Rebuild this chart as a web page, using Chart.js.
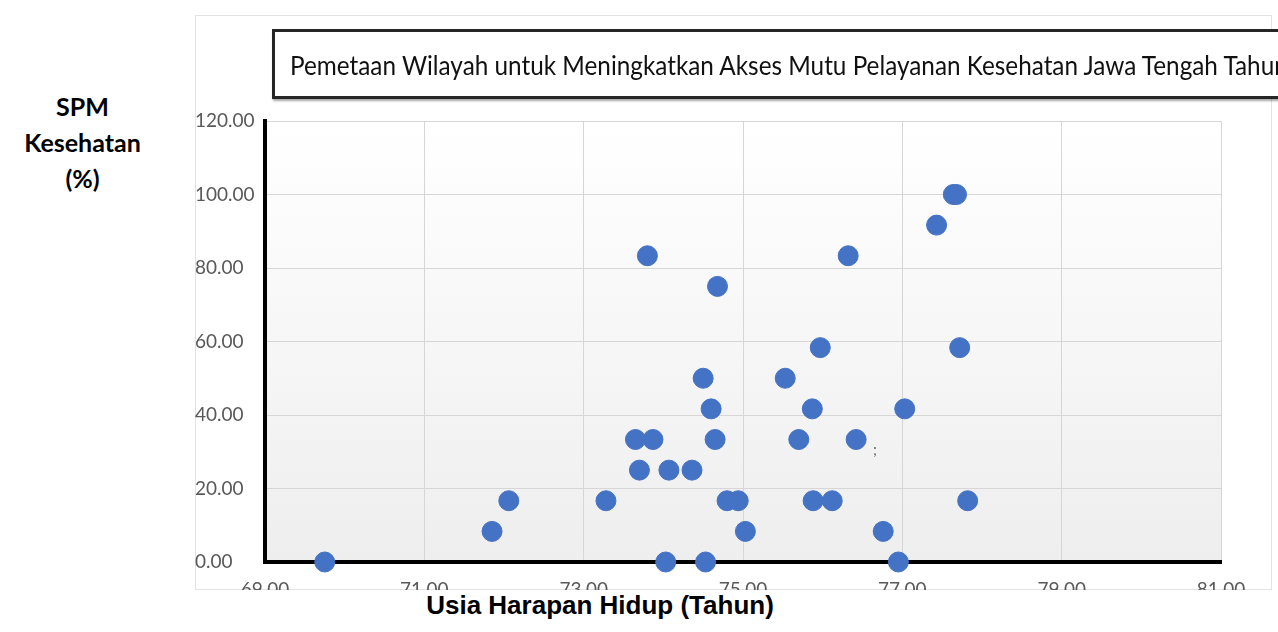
<!DOCTYPE html>
<html><head><meta charset="utf-8">
<script src="https://cdn.jsdelivr.net/npm/chart.js@4.4.0/dist/chart.umd.min.js"></script>
<style>
html,body{margin:0;padding:0;background:#fff;width:1278px;height:632px;overflow:hidden;position:relative;font-family:Lato,sans-serif}
#frame{position:absolute;left:195px;top:15px;width:1077px;height:575px;border:1px solid #e3e3e3;box-sizing:border-box}
#c{position:absolute;left:195px;top:15px}
#titlebox{position:absolute;left:272px;top:29px;width:1100px;height:70px;border:3px solid #262626;box-sizing:border-box;background:#fff;box-shadow:1px 2px 2px rgba(0,0,0,0.35)}
#titletext{position:absolute;left:15px;top:50%;transform:translateY(-50%) scaleY(1.12);white-space:nowrap;font-family:Lato;font-size:24px;color:#111}
#ytitle{position:absolute;left:0;width:165px;top:88px;text-align:center;font:bold 25px Lato;line-height:36px;color:#000}
#xtitle{position:absolute;left:300px;width:600px;top:590px;text-align:center;font:bold 26px "Liberation Sans",Arial,sans-serif;color:#000}
#semi{position:absolute;left:873px;top:440px;font:15px Lato;color:#666}
</style></head>
<body>
<div id="frame"></div>
<canvas id="c" width="1077" height="575"></canvas>
<div id="titlebox"><span id="titletext">Pemetaan Wilayah untuk Meningkatkan Akses Mutu Pelayanan Kesehatan Jawa Tengah Tahun</span></div>
<div id="ytitle">SPM<br>Kesehatan<br>(%)</div>
<div id="xtitle">Usia Harapan Hidup (Tahun)</div>
<div id="semi">;</div>
<script>
// Usia Harapan Hidup (Tahun) per kabupaten/kota
const usiaHarapanHidup = [77.64, 77.68, 77.43, 73.80, 76.32, 74.68, 75.97, 77.72, 74.50, 75.53,
  74.60, 75.87, 77.03, 73.65, 73.87, 74.65, 75.70, 76.42, 73.70, 74.07,
  74.36, 72.06, 73.28, 74.80, 74.94, 75.88, 76.12, 77.82, 71.85, 75.03,
  76.76, 74.03, 74.53, 76.95, 69.75];
// SPM Kesehatan (%)
const spmKesehatan = [100, 100, 91.67, 83.33, 83.33, 75, 58.33, 58.33, 50, 50,
  41.67, 41.67, 41.67, 33.33, 33.33, 33.33, 33.33, 33.33, 25, 25,
  25, 16.67, 16.67, 16.67, 16.67, 16.67, 16.67, 16.67, 8.33, 8.33,
  8.33, 0, 0, 0, 0];
const xTicks = [69, 71, 73, 75, 77, 79, 81];
const yTicks = [0, 20, 40, 60, 80, 100, 120];

const points = usiaHarapanHidup.map((x, i) => ({x: x, y: spmKesehatan[i]}));

const bgPlugin = {
  id: 'plotBg',
  beforeDraw(chart) {
    const {ctx, chartArea: a} = chart;
    const g = ctx.createLinearGradient(0, a.top, 0, a.bottom);
    g.addColorStop(0, '#ffffff');
    g.addColorStop(1, '#eeeeee');
    ctx.save();
    ctx.fillStyle = g;
    ctx.fillRect(a.left, a.top, a.right - a.left, a.bottom - a.top);
    ctx.restore();
  }
};

function build() {
  const mc = document.createElement('canvas').getContext('2d');
  mc.font = '100px Lato';
  const w = mc.measureText('Pemetaan Wilayah untuk Meningkatkan Akses Mutu Pelayanan Kesehatan Jawa Tengah Tahu').width;
  document.getElementById('titletext').style.fontSize = (100 * 988 / w).toFixed(2) + 'px';

  new Chart(document.getElementById('c'), {
    type: 'scatter',
    data: {
      datasets: [{
        data: points,
        backgroundColor: '#4472C4',
        borderColor: '#4472C4',
        borderWidth: 1,
        pointRadius: 10,
        pointHoverRadius: 10,
        clip: false
      }]
    },
    options: {
      responsive: false,
      animation: false,
      devicePixelRatio: 1,
      layout: {padding: {top: 106, right: 51, left: 0, bottom: 0}},
      plugins: {legend: {display: false}, tooltip: {enabled: false}, title: {display: false}},
      scales: {
        x: {
          type: 'linear', min: xTicks[0], max: xTicks[xTicks.length - 1],
          afterBuildTicks: s => { s.ticks = xTicks.map(v => ({value: v})); },
          afterFit: s => { s.height = 28; },
          ticks: {font: {family: 'Lato', size: 19}, color: '#595959', padding: 16, maxRotation: 0,
                  callback: v => Number(v).toFixed(2)},
          grid: {color: '#d6d6d6', lineWidth: 1, drawTicks: false},
          border: {display: true, color: '#000', width: 4}
        },
        y: {
          type: 'linear', min: yTicks[0], max: yTicks[yTicks.length - 1],
          afterBuildTicks: s => { s.ticks = yTicks.map(v => ({value: v})); },
          afterFit: s => { s.width = 70; },
          ticks: {font: {family: 'Lato', size: 19}, color: '#595959', crossAlign: 'far',
                  callback: v => Number(v).toFixed(2)},
          grid: {color: '#d6d6d6', lineWidth: 1, drawTicks: false},
          border: {display: true, color: '#000', width: 4}
        }
      }
    },
    plugins: [bgPlugin]
  });
}
if (document.fonts && document.fonts.load) {
  Promise.all([document.fonts.load('18px Lato'), document.fonts.load('bold 22px Lato')]).then(build, build);
} else { build(); }
</script>
</body></html>
